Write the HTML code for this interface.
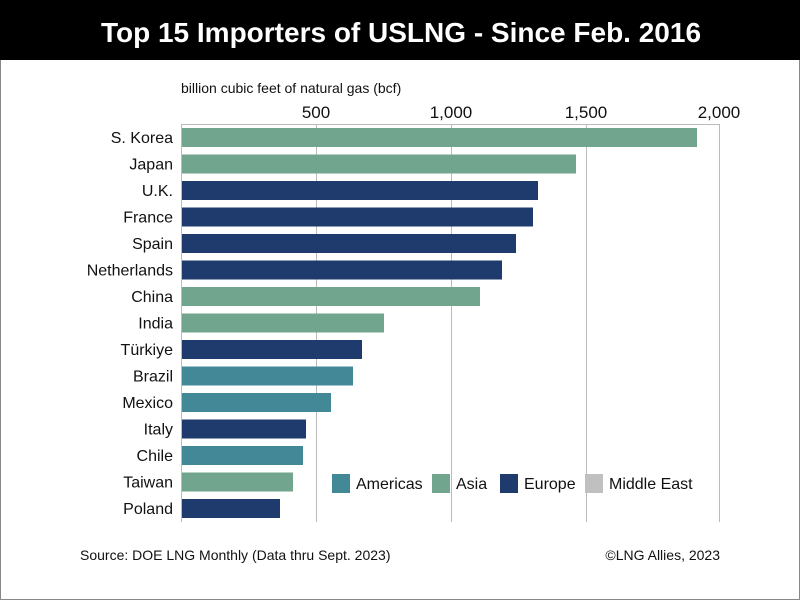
<!DOCTYPE html>
<html><head><style>
body{margin:0;background:#fff}
svg text{font-family:"Liberation Sans",sans-serif}
</style></head><body>
<svg width="800" height="600" xmlns="http://www.w3.org/2000/svg">
<rect x="0.5" y="0.5" width="799" height="599" fill="#fff" stroke="#888"/>
<rect x="0" y="0" width="800" height="60" fill="#000"/>
<text x="401" y="42" fill="#fff" font-size="28" font-weight="bold" text-anchor="middle">Top 15 Importers of USLNG - Since Feb. 2016</text>
<text x="181" y="93" font-size="14" fill="#111">billion cubic feet of natural gas (bcf)</text>
<g font-size="17" fill="#111" text-anchor="middle">
<text x="316" y="118">500</text><text x="451" y="118">1,000</text><text x="586" y="118">1,500</text><text x="719" y="118">2,000</text>
</g>
<g stroke="#bbb" stroke-width="1">
<line x1="181" y1="124.5" x2="719" y2="124.5"/>
<line x1="181.5" y1="124" x2="181.5" y2="522"/>
<line x1="316.5" y1="124" x2="316.5" y2="522"/>
<line x1="451.5" y1="124" x2="451.5" y2="522"/>
<line x1="586.5" y1="124" x2="586.5" y2="522"/>
<line x1="719.5" y1="124" x2="719.5" y2="522"/>
</g>
<g>
<rect x="182" y="128" width="515" height="19" fill="#72a58d"/>
<rect x="182" y="154.5" width="394" height="19" fill="#72a58d"/>
<rect x="182" y="181" width="356" height="19" fill="#1f3a6c"/>
<rect x="182" y="207.5" width="351" height="19" fill="#1f3a6c"/>
<rect x="182" y="234" width="334" height="19" fill="#1f3a6c"/>
<rect x="182" y="260.5" width="320" height="19" fill="#1f3a6c"/>
<rect x="182" y="287" width="298" height="19" fill="#72a58d"/>
<rect x="182" y="313.5" width="202" height="19" fill="#72a58d"/>
<rect x="182" y="340" width="180" height="19" fill="#1f3a6c"/>
<rect x="182" y="366.5" width="171" height="19" fill="#428896"/>
<rect x="182" y="393" width="149" height="19" fill="#428896"/>
<rect x="182" y="419.5" width="124" height="19" fill="#1f3a6c"/>
<rect x="182" y="446" width="121" height="19" fill="#428896"/>
<rect x="182" y="472.5" width="111" height="19" fill="#72a58d"/>
<rect x="182" y="499" width="98" height="19" fill="#1f3a6c"/>
</g>
<g font-size="16" fill="#111" text-anchor="end">
<text x="173" y="143">S. Korea</text>
<text x="173" y="169.5">Japan</text>
<text x="173" y="196">U.K.</text>
<text x="173" y="222.5">France</text>
<text x="173" y="249">Spain</text>
<text x="173" y="275.5">Netherlands</text>
<text x="173" y="302">China</text>
<text x="173" y="328.5">India</text>
<text x="173" y="355">Türkiye</text>
<text x="173" y="381.5">Brazil</text>
<text x="173" y="408">Mexico</text>
<text x="173" y="434.5">Italy</text>
<text x="173" y="461">Chile</text>
<text x="173" y="487.5">Taiwan</text>
<text x="173" y="514">Poland</text>
</g>
<rect x="332" y="474" width="18" height="19" fill="#428896"/>
<text x="356" y="489" font-size="16" fill="#111">Americas</text>
<rect x="432" y="474" width="18" height="19" fill="#72a58d"/>
<text x="456" y="489" font-size="16" fill="#111">Asia</text>
<rect x="500" y="474" width="18" height="19" fill="#1f3a6c"/>
<text x="524" y="489" font-size="16" fill="#111">Europe</text>
<rect x="585" y="474" width="18" height="19" fill="#c0c0c0"/>
<text x="609" y="489" font-size="16" fill="#111">Middle East</text>
<text x="80" y="560" font-size="14" fill="#111">Source: DOE LNG Monthly (Data thru Sept. 2023)</text>
<text x="720" y="560" font-size="14" fill="#111" text-anchor="end">©LNG Allies, 2023</text>
</svg>
</body></html>
